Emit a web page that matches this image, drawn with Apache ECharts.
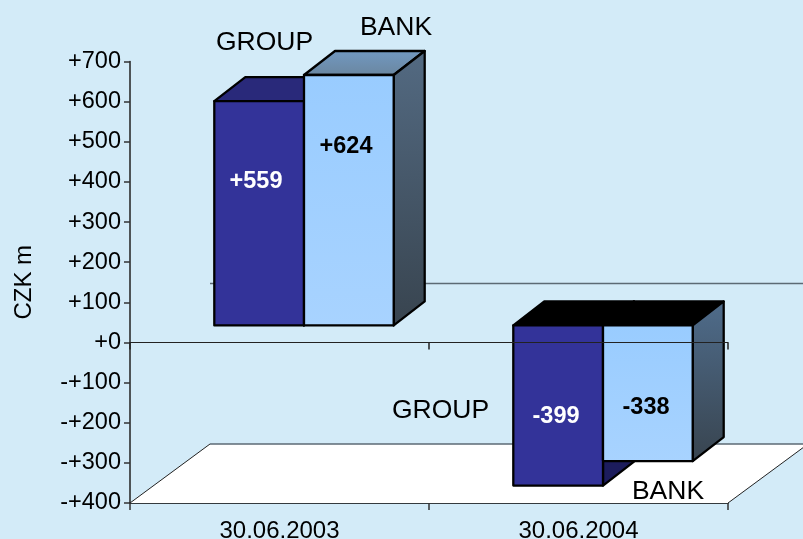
<!DOCTYPE html>
<html>
<head>
<meta charset="utf-8">
<style>
  html, body { margin: 0; padding: 0; background: #d3ebf8; }
  #chart { width: 803px; height: 539px; }
</style>
<script src="https://cdn.jsdelivr.net/npm/echarts@6/dist/echarts.min.js"></script>
</head>
<body>
<div id="chart"></div>
<script>
// Datos
const categories = ['30.06.2003', '30.06.2004'];
const groupValues = [559, -399];
const bankValues = [624, -338];
const yTicks = [-400, -300, -200, -100, 0, 100, 200, 300, 400, 500, 600, 700];
const yTickLabels = ['-+400', '-+300', '-+200', '-+100', '+0', '+100', '+200', '+300', '+400', '+500', '+600', '+700'];
const valueLabels = { group: ['+559', '-399'], bank: ['+624', '-338'] };

const FONT = '"Liberation Sans", Arial, sans-serif';

// Profundidad de las barras y del suelo (perspectiva falsa 3D)
const BAR_DX = 31, BAR_DY = -24, BAR_SHIFT_X = 24.5, BAR_SHIFT_Y = -17;
const FLOOR_DX = 80, FLOOR_DY = -59;

const chart = echarts.init(document.getElementById('chart'));

function vGradient(top, bottom) {
    return new echarts.graphic.LinearGradient(0, 0, 0, 1, [
        { offset: 0, color: top },
        { offset: 1, color: bottom }
    ]);
}

function poly(points, fill, lineWidth) {
    return {
        type: 'polygon',
        shape: { points: points },
        style: { fill: fill, stroke: '#000', lineWidth: lineWidth === undefined ? 2.3 : lineWidth, lineJoin: 'round' }
    };
}

// Dibuja una barra: cara superior, lateral y frontal
function renderBar(isGroup) {
    return function (params, api) {
        const idx = api.value(0);
        const val = api.value(1);
        const w = api.size([1, 0])[0] * 0.3;
        const cx = api.coord([idx, 0])[0] + BAR_SHIFT_X;
        const x0 = isGroup ? cx - w : cx;
        const x1 = x0 + w;
        const yBase = api.coord([idx, 0])[1] + BAR_SHIFT_Y;
        const yVal = api.coord([idx, val])[1] + BAR_SHIFT_Y;
        const yTop = Math.min(yBase, yVal);
        const yBottom = Math.max(yBase, yVal);

        let topFill;
        if (val < 0) {
            topFill = '#000';
        } else {
            topFill = isGroup ? '#29297a' : vGradient('#7299c2', '#6a869f');
        }
        const sideFill = isGroup ? '#1c1c5c' : vGradient(val < 0 ? '#4f6c8b' : '#536a82', '#38444f');
        const frontFill = isGroup ? '#333399' : vGradient('#99ccff', '#a8d3ff');

        return {
            type: 'group',
            children: [
                poly([[x0, yTop], [x1, yTop], [x1 + BAR_DX, yTop + BAR_DY], [x0 + BAR_DX, yTop + BAR_DY]], topFill),
                poly([[x1, yTop], [x1 + BAR_DX, yTop + BAR_DY], [x1 + BAR_DX, yBottom + BAR_DY], [x1, yBottom]], sideFill),
                poly([[x0, yTop], [x1, yTop], [x1, yBottom], [x0, yBottom]], frontFill)
            ]
        };
    };
}

// Suelo blanco y linea trasera del cero
function renderFloor(params, api) {
    const left = params.coordSys.x;
    const right = left + params.coordSys.width;
    const yFloor = api.coord([0, yTicks[0]])[1];
    const yZero = api.coord([0, 0])[1];
    const thin = { stroke: '#5c6a74', lineWidth: 1.5 };
    return {
        type: 'group',
        children: [
            {
                type: 'polygon',
                shape: { points: [[left, yFloor], [left + FLOOR_DX, yFloor + FLOOR_DY], [right + FLOOR_DX, yFloor + FLOOR_DY], [right, yFloor]] },
                style: { fill: '#fff' }
            },
            { type: 'line', shape: { x1: left + FLOOR_DX, y1: yFloor + FLOOR_DY, x2: right + FLOOR_DX, y2: yFloor + FLOOR_DY }, style: thin },
            { type: 'line', shape: { x1: left + FLOOR_DX, y1: yZero + FLOOR_DY, x2: right + FLOOR_DX, y2: yZero + FLOOR_DY }, style: thin },
            { type: 'line', shape: { x1: left, y1: yFloor, x2: left + FLOOR_DX, y2: yFloor + FLOOR_DY }, style: { stroke: '#222', lineWidth: 1 } },
            { type: 'line', shape: { x1: right, y1: yFloor, x2: right + FLOOR_DX, y2: yFloor + FLOOR_DY }, style: { stroke: '#222', lineWidth: 1 } }
        ]
    };
}

function textEl(text, x, y, size, fill, bold) {
    return {
        type: 'text',
        x: x,
        y: y,
        z: 20,
        style: {
            text: text,
            fill: fill,
            font: (bold ? 'bold ' : '') + size + 'px ' + FONT,
            align: 'center',
            verticalAlign: 'middle'
        }
    };
}

const option = {
    backgroundColor: '#d3ebf8',
    animation: false,
    textStyle: { fontFamily: FONT },
    grid: { left: 130, top: 61.5, width: 598, height: 441.5, containLabel: false, outerBoundsMode: 'none' },
    xAxis: [
        {
            type: 'category',
            data: categories,
            position: 'bottom',
            axisLine: { onZero: false, lineStyle: { color: '#000', width: 1.5 } },
            axisTick: { show: true, length: 7, alignWithLabel: false, lineStyle: { color: '#333', width: 1.5 } },
            axisLabel: { color: '#000', fontSize: 24, margin: 16, fontFamily: FONT },
            splitLine: { show: false }
        },
        {
            type: 'category',
            data: categories,
            position: 'top',
            z: 10,
            axisLine: { onZero: true, lineStyle: { color: '#222', width: 1 } },
            axisTick: { show: true, inside: true, length: 7, lineStyle: { color: '#222', width: 1.5 } },
            axisLabel: { show: false },
            splitLine: { show: false }
        }
    ],
    yAxis: {
        type: 'value',
        min: -400,
        max: 700,
        interval: 100,
        name: 'CZK m',
        nameLocation: 'middle',
        nameRotate: 90,
        nameGap: 94,
        nameTextStyle: { color: '#000', fontSize: 24, fontFamily: FONT },
        axisLine: { show: true, onZero: false, lineStyle: { color: '#222', width: 1.5 } },
        axisTick: { show: true, length: 6, lineStyle: { color: '#333', width: 1.5 } },
        axisLabel: {
            color: '#000',
            fontSize: 23.5,
            margin: 9,
            fontFamily: FONT,
            formatter: function (v) { return yTickLabels[yTicks.indexOf(v)]; }
        },
        splitLine: { show: false }
    },
    series: [
        { type: 'custom', name: 'floor', z: 1, silent: true, data: [[0, yTicks[0]]], renderItem: renderFloor },
        {
            type: 'custom',
            name: 'GROUP',
            z: 2,
            data: groupValues.map((v, i) => [i, v]),
            renderItem: renderBar(true)
        },
        {
            type: 'custom',
            name: 'BANK',
            z: 3,
            data: bankValues.map((v, i) => [i, v]),
            renderItem: renderBar(false)
        }
    ],
    graphic: [
        textEl('GROUP', 264.5, 42.5, 26.5, '#000', false),
        textEl('BANK', 396, 27.5, 26.5, '#000', false),
        textEl('GROUP', 440.5, 410.5, 26.5, '#000', false),
        textEl('BANK', 668, 491.5, 26.5, '#000', false),
        textEl(valueLabels.group[0], 256, 181.5, 23.5, '#fff', true),
        textEl(valueLabels.bank[0], 346, 146.5, 23.5, '#000', true),
        textEl(valueLabels.group[1], 556, 416.5, 23.5, '#fff', true),
        textEl(valueLabels.bank[1], 646, 408, 23.5, '#000', true)
    ]
};

chart.setOption(option);
</script>
</body>
</html>
